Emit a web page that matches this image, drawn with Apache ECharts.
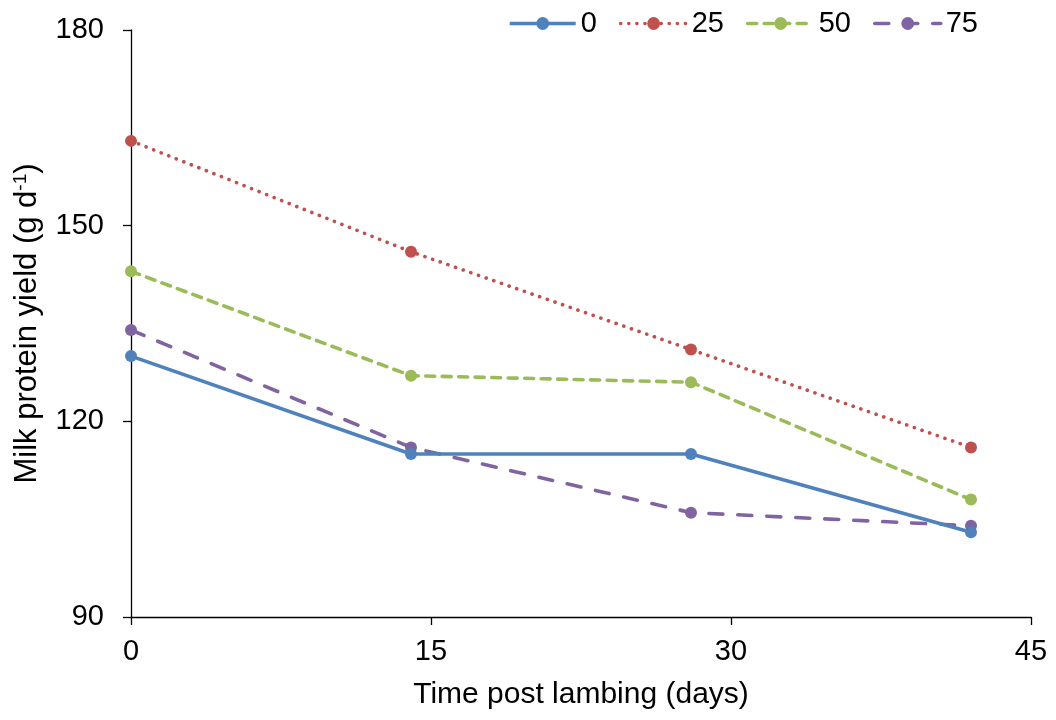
<!DOCTYPE html>
<html>
<head>
<meta charset="utf-8">
<script src="https://cdn.jsdelivr.net/npm/echarts@6/dist/echarts.min.js"></script>
<style>
  html, body { margin: 0; padding: 0; background: #fff; }
  #chart { width: 1056px; height: 720px; }
</style>
</head>
<body>
<div id="chart"></div>
<script>
// Days post lambing at which milk protein was measured
const days = [0, 14, 28, 42];
// Treatment groups
const groups = ['0', '25', '50', '75'];
// Milk protein yield (g/d) for each group
const yield0 = [130, 115, 115, 103];
const yield25 = [163, 146, 131, 116];
const yield50 = [143, 127, 126, 108];
const yield75 = [134, 116, 106, 104];
// Axis ticks
const xTicks = [0, 15, 30, 45];
const yTicks = [90, 120, 150, 180];

const colors = ['#4F81BD', '#C0504D', '#9BBB59', '#8064A2'];
const dashes = ['solid', [0.1, 8], [9, 7.5], [14, 15]];
const values = [yield0, yield25, yield50, yield75];
const font = 'Liberation Sans, Arial, sans-serif';

const series = groups.map((g, i) => ({
  name: g,
  type: 'line',
  data: days.map((d, j) => [d, values[i][j]]),
  symbol: 'circle',
  symbolSize: 12,
  color: colors[i],
  itemStyle: { color: colors[i] },
  lineStyle: {
    color: colors[i],
    width: 3.6,
    type: dashes[i],
    cap: i === 0 ? 'butt' : 'round'
  },
  z: 10 - i
}));

const chart = echarts.init(document.getElementById('chart'), null, { renderer: 'canvas' });
chart.setOption({
  animation: false,
  backgroundColor: '#fff',
  grid: { left: 131, right: 25, top: 30, bottom: 103, containLabel: false },
  legend: {
    data: groups,
    right: 73,
    top: 4,
    itemWidth: 66,
    itemHeight: 16,
    itemGap: 22,
    lineStyle: { width: 3.6 },
    textStyle: { fontFamily: font, fontSize: 29, color: '#000' }
  },
  xAxis: {
    type: 'value',
    min: xTicks[0],
    max: xTicks[xTicks.length - 1],
    interval: 15,
    name: 'Time post lambing (days)',
    nameLocation: 'middle',
    nameGap: 63,
    nameTextStyle: { fontFamily: font, fontSize: 30, color: '#000' },
    axisLine: { lineStyle: { color: '#000', width: 1.3 } },
    axisTick: { show: true, length: 8, lineStyle: { color: '#000', width: 1.3 } },
    axisLabel: { fontFamily: font, fontSize: 29, color: '#000', margin: 20 },
    splitLine: { show: false }
  },
  yAxis: {
    type: 'value',
    min: yTicks[0],
    max: yTicks[yTicks.length - 1],
    interval: 30,
    name: 'Milk protein yield (g d{sup|-1})',
    nameLocation: 'middle',
    nameGap: 87,
    nameTextStyle: {
      fontFamily: font, fontSize: 31, color: '#000',
      rich: { sup: { fontFamily: font, fontSize: 19, color: '#000', verticalAlign: 'top', padding: [0, 0, 14, 0] } }
    },
    axisLine: { show: true, lineStyle: { color: '#000', width: 1.3 } },
    axisTick: { show: true, length: 8, lineStyle: { color: '#000', width: 1.3 } },
    axisLabel: { fontFamily: font, fontSize: 29, color: '#000', margin: 27 },
    splitLine: { show: false }
  },
  series: series
});
</script>
</body>
</html>
